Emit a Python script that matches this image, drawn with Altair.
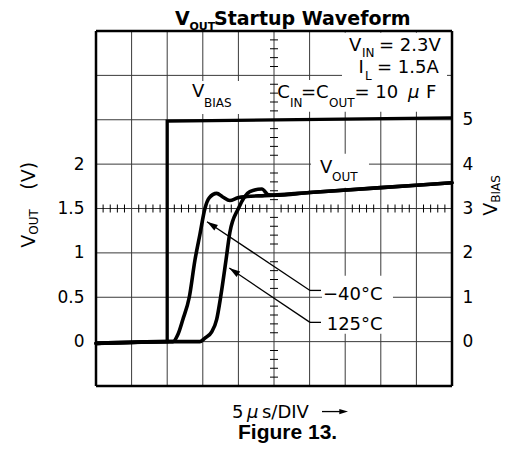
import math
import altair as alt
import pandas as pd

# ---------------- data ----------------
# time in microseconds (5 us / division, 10 divisions)
t_m40 = [0, 10, 10.8, 11.5, 12.2, 13.1, 13.9, 14.6, 15.3, 15.9, 16.95, 17.8, 18.8, 19.9, 21.2, 23.7, 30, 40, 50]
v_m40 = [-0.02, 0.0, 0.0, 0.08, 0.25, 0.5, 0.92, 1.21, 1.5, 1.62, 1.67, 1.63, 1.59, 1.62, 1.635, 1.645, 1.68, 1.735, 1.79]

t_125 = [0, 10, 14.6, 15.3, 16.25, 16.95, 17.5, 18.26, 18.8, 20.0, 21.6, 23.3, 24.2, 25.1, 30, 40, 50]
v_125 = [-0.02, 0.0, 0.0, 0.04, 0.11, 0.25, 0.5, 0.92, 1.23, 1.5, 1.69, 1.72, 1.655, 1.65, 1.68, 1.735, 1.79]

t_bias = [0, 10.0, 10.0, 50]
v_bias = [-0.045, 0.0, 4.97, 5.04]

x_grid = [0, 5, 10, 15, 20, 25, 30, 35, 40, 45, 50]
y_grid = [-0.5, 0, 0.5, 1, 1.5, 2, 2.5, 3, 3.5]
vout_ticks = [0, 0.5, 1, 1.5, 2]
bias_ticks = [0, 1, 2, 3, 4, 5]

W, H = 356, 355
T_DOM = [0, 50]
V_DOM = [-0.5, 3.5]
B_DOM = [-1, 7]
PX_T = W / (T_DOM[1] - T_DOM[0])
PX_V = H / (V_DOM[1] - V_DOM[0])

xs = alt.Scale(domain=T_DOM, nice=False, zero=False)
ys = alt.Scale(domain=V_DOM, nice=False, zero=False)
bs = alt.Scale(domain=B_DOM, nice=False, zero=False)

FONT = "DejaVu Sans"
BOLD = "Liberation Sans"

AX_Y = alt.Axis(values=vout_ticks, grid=False, ticks=False, domain=False, title=None, labelPadding=12,
                labelFont=FONT, labelFontSize=17, labelColor="black", labelOverlap=False,
                labelExpr="toString(datum.value)")


def X(f="t"):
    return alt.X(f + ":Q", scale=xs, axis=None)


def Y(f="v"):
    return alt.Y(f + ":Q", scale=ys, axis=AX_Y)


# ---------------- grid ----------------
grows = [(g, V_DOM[0], g, V_DOM[1]) for g in x_grid] + [(T_DOM[0], g, T_DOM[1], g) for g in y_grid]
grid = pd.DataFrame(grows, columns=["t", "v", "t2", "v2"])
grid_layer = alt.Chart(grid).mark_rule(color="#3a3a3a", strokeWidth=1).encode(
    x=X(), x2="t2:Q", y=Y(), y2="v2:Q")

# ---------------- white label boxes ----------------
boxes = pd.DataFrame(
    [
        (34.55, 3.48, 49.3, 2.949),
        (25.2, 2.949, 49.58, 2.589),
        (13.06, 2.937, 20.37, 2.566),
        (30.2, 2.116, 38.34, 1.733),
        (31.74, 0.743, 41.71, 0.09),
    ],
    columns=["t", "v", "t2", "v2"],
)
box_layer = alt.Chart(boxes).mark_rect(color="white").encode(x=X(), x2="t2:Q", y=Y(), y2="v2:Q")

# ---------------- minor ticks on the centre cross ----------------
rows = []
for i in range(0, 51):
    if i % 5 != 0:
        rows.append((i, 1.5 - 4 / PX_V, i, 1.5 + 4 / PX_V))
for k in range(0, 41):
    val = round(-0.5 + 0.1 * k, 2)
    if round(val * 10) % 5 != 0:
        rows.append((25 - 4 / PX_T, val, 25 + 4 / PX_T, val))
minor = pd.DataFrame(rows, columns=["t", "v", "t2", "v2"])
minor_layer = alt.Chart(minor).mark_rule(color="black", strokeWidth=1).encode(
    x=X(), x2="t2:Q", y=Y(), y2="v2:Q")

# ---------------- VOUT curves ----------------
cdf = pd.concat([
    pd.DataFrame({"t": t_m40, "v": v_m40, "s": "-40", "i": range(len(t_m40))}),
    pd.DataFrame({"t": t_125, "v": v_125, "s": "125", "i": range(len(t_125))}),
])
curve_layer = alt.Chart(cdf).mark_line(color="black", strokeWidth=3.6, interpolate="monotone",
                                       strokeJoin="round", strokeCap="round").encode(
    x=X(), y=Y(), detail="s:N", order="i:Q")

# ---------------- leader lines and arrows ----------------
leaders = pd.DataFrame(
    [
        (30.06, 0.577, 15.59, 1.351),
        (30.06, 0.577, 31.6, 0.577),
        (30.06, 0.217, 18.72, 0.829),
        (30.06, 0.217, 31.6, 0.217),
        (31.74, -0.788, 34.6, -0.788),
    ],
    columns=["t", "v", "t2", "v2"],
)
leader_layer = alt.Chart(leaders).mark_rule(color="black", strokeWidth=1.3).encode(
    x=X(), x2="t2:Q", y=Y(), y2="v2:Q")


def head_angle(tt, tv, ht, hv):
    dx = (ht - tt) * PX_T
    dy = -(hv - tv) * PX_V
    return math.degrees(math.atan2(dx, -dy)) % 360


heads = pd.DataFrame(
    [
        (15.59, 1.351, head_angle(30.06, 0.577, 15.59, 1.351), 480),
        (18.72, 0.829, head_angle(30.06, 0.217, 18.72, 0.829), 480),
        (35.39, -0.788, 90.0, 300),
    ],
    columns=["t", "v", "ang", "sz"],
)
head_layer = alt.Chart(heads).mark_point(shape="M0,0 L0.3,1 L-0.3,1 Z", filled=True, color="black",
                                          opacity=1, strokeWidth=0).encode(
    x=X(), y=Y(),
    angle=alt.Angle("ang:Q", scale=None),
    size=alt.Size("sz:Q", scale=None, legend=None),
)

# ---------------- texts ----------------
normal_texts = [
    ("V", 35.53, 3.275, 18, 0), ("IN", 37.36, 3.208, 12, 0), ("= 2.3V", 39.75, 3.275, 18, 0),
    ("I", 36.87, 3.028, 18, 0), ("L", 37.78, 2.949, 12, 0), ("= 1.5A", 39.47, 3.028, 18, 0),
    ("C", 25.46, 2.746, 18, 0), ("IN", 27.25, 2.645, 12, 0), ("=", 28.79, 2.746, 18, 0),
    ("C", 30.90, 2.746, 18, 0), ("OUT", 32.72, 2.645, 12, 0), ("= 10", 36.31, 2.746, 18, 0),
    ("F", 46.35, 2.746, 18, 0),
    ("V", 13.48, 2.757, 18, 0), ("BIAS", 15.17, 2.645, 12, 0),
    ("V", 31.46, 1.902, 18, 0), ("OUT", 33.15, 1.812, 12, 0),
    ("\u221240\u00b0C", 31.88, 0.473, 18, 0), ("125\u00b0C", 32.4, 0.135, 18, 0),
    ("5", 19.10, -0.855, 18, 0), ("s/DIV", 23.31, -0.855, 18, 0),
    ("V", -8.57, 1.058, 19, 270), ("OUT", -8.15, 1.204, 12, 270), ("(V)", -8.57, 1.711, 19, 270),
    ("V", 56.32, 1.418, 19, 270), ("BIAS", 56.78, 1.564, 12, 270),
]
italic_texts = [("\u00b5", 43.82, 2.746, 18, 0), ("\u00b5", 21.21, -0.855, 18, 0)]
title_texts = [
    ("V", 11.10, 3.568, 19, 0), ("OUT", 13.13, 3.511, 11, 0),
    ("Startup Waveform", 16.57, 3.568, 19, 0),
]
fig_texts = [("Figure 13.", 19.94, -1.097, 21, 0)]


def text_layer(rows, **mk):
    df = pd.DataFrame(rows, columns=["text", "t", "v", "fs", "ang"])
    return alt.Chart(df).mark_text(align="left", baseline="alphabetic", color="black", **mk).encode(
        x=X(), y=Y(),
        text="text:N",
        size=alt.Size("fs:Q", scale=None, legend=None),
        angle=alt.Angle("ang:Q", scale=None),
    )


t_normal = text_layer(normal_texts, font=FONT)
t_italic = text_layer(italic_texts, font=FONT, fontStyle="italic")
t_title = text_layer(title_texts, font=FONT, fontWeight="bold")
t_fig = text_layer(fig_texts, font=BOLD, fontWeight="bold")

# ---------------- border ----------------
border = pd.DataFrame(
    [(0, -0.5, 50, -0.5), (0, 3.5, 50, 3.5), (0, -0.5, 0, 3.5), (50, -0.5, 50, 3.5)],
    columns=["t", "v", "t2", "v2"],
)
border_layer = alt.Chart(border).mark_rule(color="black", strokeWidth=2.5).encode(
    x=X(), x2="t2:Q", y=Y(), y2="v2:Q")

inner = alt.layer(grid_layer, box_layer, minor_layer, curve_layer, leader_layer, head_layer,
                  t_normal, t_italic, t_title, t_fig, border_layer)

bdf = pd.DataFrame({"t": t_bias, "vb": v_bias, "i": range(len(t_bias))})
bias_layer = alt.Chart(bdf).mark_line(color="black", strokeWidth=3.3, strokeJoin="miter").encode(
    x=X(),
    y=alt.Y("vb:Q", scale=bs, axis=alt.Axis(orient="right", values=bias_ticks, grid=False, ticks=False,
                                             domain=False, title=None, labelPadding=10, labelFont=FONT,
                                             labelFontSize=17, labelColor="black", labelOverlap=False)),
    order="i:Q",
)

chart = alt.layer(inner, bias_layer).resolve_scale(y="independent").properties(
    width=W, height=H,
    autosize=alt.AutoSizeParams(type="none"),
    padding={"left": 88, "top": 23, "right": 52, "bottom": 57},
    background="white",
).configure_view(stroke=None)

chart.save("out.html", embed_options={"renderer": "svg", "actions": False})
